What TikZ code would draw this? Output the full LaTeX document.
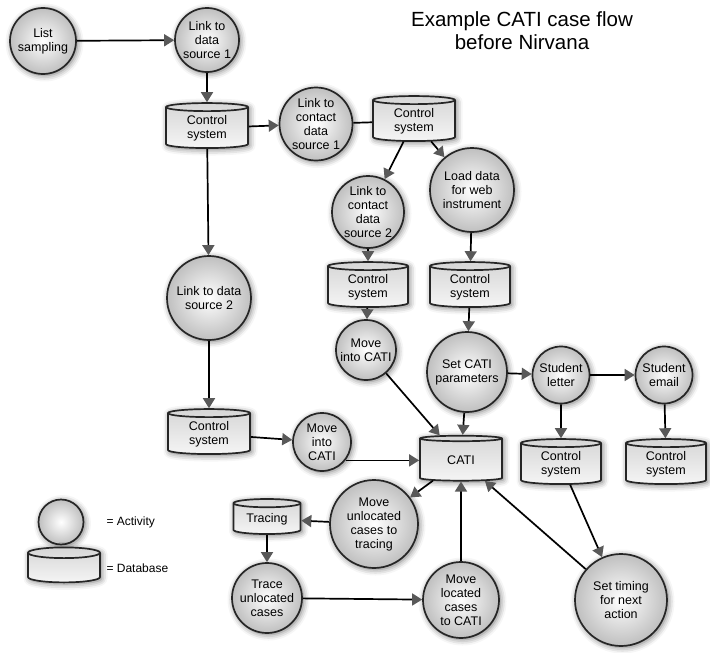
\documentclass[tikz,border=0pt]{standalone}
\usepackage{fontspec}
\setmainfont{Liberation Sans}
\usetikzlibrary{shapes.geometric,arrows.meta,shadows.blur}

\tikzset{
  softshadow/.style={blur shadow={shadow xshift=1.5pt,shadow yshift=-1.5pt,shadow blur radius=6pt,shadow opacity=55}},
  activity/.style={circle,draw=black!85,line width=1.7pt,shading=radial,
    inner color=white,outer color=black!25,align=center,inner sep=0pt,
    font=\fontsize{12.5}{14}\selectfont,softshadow},
  database/.style={cylinder,shape border rotate=90,aspect=0.2,draw=black!85,line width=1.7pt,
    top color=black!16,bottom color=black!4,
    minimum width=82pt,minimum height=45pt,align=center,inner sep=0pt,
    font=\fontsize{12.5}{14}\selectfont,softshadow},
  flow/.style={line width=1.7pt,-{Triangle[width=12pt,length=10pt,color=black!65]}},
  line/.style={line width=1.7pt},
}

\begin{document}
\begin{tikzpicture}[x=1pt,y=-1pt]
  \useasboundingbox (0,0) rectangle (710,653);
  % title
  \node[align=center,font=\fontsize{20.5}{23}\selectfont] (title) at (522,31) {Example CATI case flow\\before Nirvana};
  % left column
  \node[activity,minimum size=66pt] (list) at (43,41) {List\\sampling};
  \node[activity,minimum size=64pt] (link1) at (207,40) {Link to\\data\\source 1};
  \node[database] (cs1) at (207,128) {Control\\system};
  \node[activity,minimum size=84pt] (lds2) at (209,298) {Link to data\\source 2};
  \node[database] (cs5) at (209,434) {Control\\system};
  \node[activity,minimum size=58pt] (mcl) at (322,442) {Move\\into\\CATI};
  % contact branch
  \node[activity,minimum size=73pt] (lc1) at (316,124) {Link to\\contact\\data\\source 1};
  \node[database] (cs2) at (414,121) {Control\\system};
  \node[activity,minimum size=72pt] (lc2) at (368,212) {Link to\\contact\\data\\source 2};
  \node[activity,minimum size=84pt] (ld) at (472,190) {Load data\\for web\\instrument};
  \node[database,minimum width=80pt] (cs3) at (368,287) {Control\\system};
  \node[database,minimum width=80pt] (cs4) at (470,287) {Control\\system};
  \node[activity,minimum size=60pt] (mct) at (366,350) {Move\\into CATI};
  \node[activity,minimum size=80pt] (sc) at (467,372) {Set CATI\\parameters};
  \node[activity,minimum size=57pt] (sl) at (561,375) {Student\\letter};
  \node[activity,minimum size=57pt] (se) at (664,375) {Student\\email};
  % CATI and below
  \node[database] (cati) at (461,460) {CATI};
  \node[database,minimum width=80pt] (cs6) at (561,464) {Control\\system};
  \node[database,minimum width=80pt] (cs7) at (666,464) {Control\\system};
  \node[activity,minimum size=88pt] (mu) at (374,524) {Move\\unlocated\\cases to\\tracing};
  \node[database,minimum width=67pt,minimum height=35pt] (tr) at (267,519) {Tracing};
  \node[activity,minimum size=70pt] (tu) at (267,598) {Trace\\unlocated\\cases};
  \node[activity,minimum size=76pt] (ml) at (461,600) {Move\\located\\cases\\to CATI};
  \node[activity,minimum size=92pt] (st) at (621,600) {Set timing\\for next\\action};
  % legend
  \node[activity,minimum size=45pt] (legact) at (61,522) {};
  \node[database,minimum width=72pt,minimum height=35pt] (legdb) at (64,568) {\phantom{Database}};
  \node[anchor=west,font=\fontsize{12}{14}\selectfont] (legacttext) at (103,522) {= Activity};
  \node[anchor=west,font=\fontsize{12}{14}\selectfont] (legdbtext) at (103,568) {= Database};
  % connectors
  \draw[flow] (list) -- (link1);
  \draw[flow] (link1) -- (cs1);
  \draw[flow] (cs1) -- (lc1);
  \draw[flow] (cs1) -- (lds2);
  \draw[line] (lc1) -- (cs2);
  \draw[flow] (cs2) -- (lc2);
  \draw[flow] (cs2) -- (ld);
  \draw[flow] (lc2) -- (cs3);
  \draw[flow] (ld) -- (cs4);
  \draw[flow] (cs3) -- (mct);
  \draw[flow] (cs4) -- (sc);
  \draw[flow] (lds2) -- (cs5);
  \draw[flow] (cs5) -- (mcl);
  \draw[flow] (mcl.-38) -- (mcl.-38 -| cati.west);
  \draw[flow] (mct) -- (cati);
  \draw[flow] (sc) -- (cati);
  \draw[flow] (sc) -- (sl);
  \draw[flow] (sl) -- (se);
  \draw[flow] (sl) -- (cs6);
  \draw[flow] (se) -- (cs7);
  \draw[flow] (cs6) -- (st);
  \draw[flow] (st) -- (cati);
  \draw[flow] (cati) -- (mu);
  \draw[flow] (mu) -- (tr);
  \draw[flow] (tr) -- (tu);
  \draw[flow] (tu) -- (ml);
  \draw[flow] (ml) -- (cati);
\end{tikzpicture}
\end{document}
